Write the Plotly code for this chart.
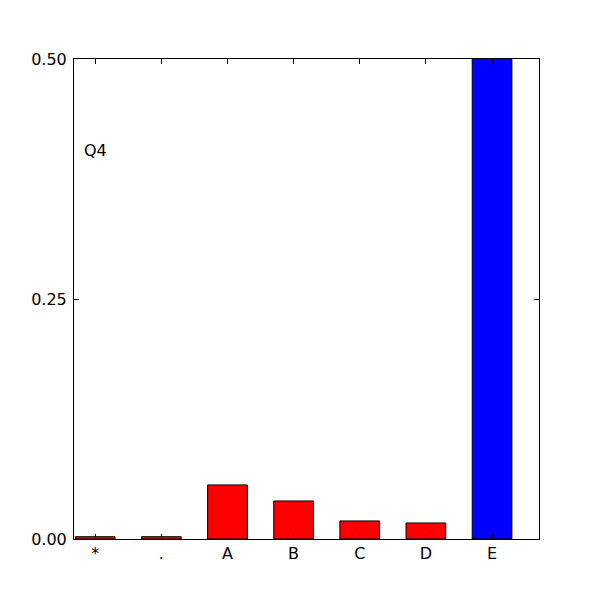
import plotly.graph_objects as go

categories = ["*", ".", "A", "B", "C", "D", "E"]
values = [0.0024, 0.0024, 0.0563, 0.0396, 0.0188, 0.0167, 0.55]
colors = ["#ff0000", "#ff0000", "#ff0000", "#ff0000", "#ff0000", "#ff0000", "#0000ff"]
y_ticks = [0.0, 0.25, 0.5]
y_tick_labels = ["0.00", "0.25", "0.50"]

fig = go.Figure()
fig.add_trace(go.Bar(
    x=list(range(len(categories))),
    y=values,
    width=0.6,
    marker=dict(color=colors, line=dict(color="black", width=1)),
    showlegend=False,
))

font = dict(family="DejaVu Sans, sans-serif", size=16, color="black")

fig.update_layout(
    width=600, height=600,
    margin=dict(l=66, r=69, t=51, b=69),
    plot_bgcolor="white", paper_bgcolor="white",
    font=font,
    xaxis=dict(
        range=[-0.32, 6.71],
        tickmode="array",
        tickvals=list(range(len(categories))),
        ticktext=categories,
        ticks="inside", ticklen=5, tickcolor="black",
        showline=True, linecolor="black", linewidth=1, mirror="ticks",
        showgrid=False, zeroline=False,
        tickfont=font,
        ticklabelstandoff=0,
    ),
    yaxis=dict(
        range=[0, 0.5],
        tickmode="array",
        tickvals=y_ticks,
        ticktext=y_tick_labels,
        ticks="inside", ticklen=5, tickcolor="black",
        showline=True, linecolor="black", linewidth=1, mirror="ticks",
        showgrid=False, zeroline=False,
        tickfont=font,
        ticklabelstandoff=3,
    ),
    annotations=[dict(
        text="Q4", xref="paper", yref="y", x=0.017, y=0.405,
        xanchor="left", yanchor="middle", showarrow=False, font=font,
    )],
)

fig.write_html("out.html")
